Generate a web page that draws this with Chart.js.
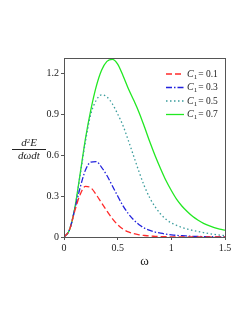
<!DOCTYPE html>
<html>
<head>
<meta charset="utf-8">
<script src="https://cdn.jsdelivr.net/npm/chart.js@4.4.0/dist/chart.umd.min.js"></script>
<style>
  html, body { margin: 0; padding: 0; background: #fff; }
  #wrap { position: relative; width: 249px; height: 323px; }
  #ylab {
    position: absolute; left: 12px; top: 137px; width: 34px;
    font-family: "Liberation Serif", serif; font-style: italic; font-size: 11px;
    text-align: center; color: #222; line-height: 11px;
  }
  #ylab .num { border-bottom: 1px solid #222; padding-bottom: 1px; }
  #ylab sup { font-size: 7px; vertical-align: 3px; line-height: 0; }
</style>
</head>
<body>
<div id="wrap">
  <canvas id="c" width="249" height="323"></canvas>
  <div id="ylab"><div class="num">d<sup>2</sup>E</div><div>dωdt</div></div>
</div>
<script>
// data
const omega = [0, 0.05, 0.1, 0.15, 0.2, 0.25, 0.3, 0.35, 0.4, 0.45, 0.5, 0.55, 0.6, 0.65, 0.7, 0.75,
  0.8, 0.85, 0.9, 0.95, 1.0, 1.05, 1.1, 1.15, 1.2, 1.25, 1.3, 1.35, 1.4, 1.45, 1.5];
const c1Values = [0.1, 0.3, 0.5, 0.7];
const red01 = [0, 0.05, 0.19, 0.31, 0.37, 0.36, 0.31, 0.25, 0.19, 0.135, 0.09, 0.058, 0.037, 0.024,
  0.016, 0.011, 0.007, 0.005, 0.003, 0.002, 0.0015, 0.001, 0.001, 0, 0, 0, 0, 0, 0, 0, 0];
const blue03 = [0, 0.05, 0.2, 0.36, 0.49, 0.548, 0.552, 0.51, 0.45, 0.375, 0.3, 0.228, 0.17, 0.125, 0.09,
  0.065, 0.048, 0.036, 0.028, 0.021, 0.016, 0.012, 0.009, 0.007, 0.005, 0.004, 0.003, 0.002, 0.0015, 0.001, 0.001];
const teal05 = [0, 0.05, 0.205, 0.45, 0.7, 0.9, 1.0, 1.04, 1.025, 0.975, 0.9, 0.815, 0.705, 0.59, 0.475, 0.37,
  0.285, 0.22, 0.168, 0.13, 0.103, 0.085, 0.07, 0.058, 0.048, 0.04, 0.032, 0.025, 0.019, 0.014, 0.01];
const green07 = [0, 0.05, 0.21, 0.46, 0.72, 0.93, 1.1, 1.22, 1.285, 1.30, 1.265, 1.18, 1.085, 1.0, 0.91, 0.805,
  0.695, 0.593, 0.5, 0.413, 0.34, 0.275, 0.225, 0.185, 0.15, 0.123, 0.1, 0.083, 0.069, 0.058, 0.05];
const xTicks = [0, 0.5, 1, 1.5];
const yTicks = [0, 0.3, 0.6, 0.9, 1.2];

const serif = '"Liberation Serif", "DejaVu Serif", serif';

function pts(arr) {
  return omega.map((w, i) => ({ x: w, y: arr[i] }));
}

const series = [
  { vals: red01, color: '#ff2a2a', dash: [6, 3] },
  { vals: blue03, color: '#2222dd', dash: [6, 2, 1.5, 2] },
  { vals: teal05, color: '#3a9c9c', dash: [1.5, 2.5] },
  { vals: green07, color: '#22e822', dash: [] }
];

const datasets = series.map((s, i) => ({
  label: 'C1 = ' + c1Values[i],
  data: pts(s.vals),
  borderColor: s.color,
  borderDash: s.dash,
  borderWidth: 1.3,
  pointRadius: 0,
  fill: false,
  cubicInterpolationMode: 'monotone'
}));

// frame around plot area + legend drawn inside
const framePlugin = {
  id: 'frame',
  afterDraw(chart) {
    const ctx = chart.ctx;
    const a = chart.chartArea;
    ctx.save();
    ctx.strokeStyle = '#555';
    ctx.lineWidth = 1;
    ctx.strokeRect(a.left + 0.5, a.top + 0.5, a.right - a.left, a.bottom - a.top);

    // legend
    const x0 = 166, x1 = 184, rowY = [74, 87.5, 101, 114.5];
    chart.data.datasets.forEach((ds, i) => {
      const y = rowY[i];
      ctx.strokeStyle = ds.borderColor;
      ctx.lineWidth = 1.3;
      ctx.setLineDash(ds.borderDash);
      ctx.beginPath();
      ctx.moveTo(x0, y);
      ctx.lineTo(x1, y);
      ctx.stroke();
      ctx.setLineDash([]);
      ctx.fillStyle = '#222';
      ctx.textBaseline = 'middle';
      ctx.textAlign = 'left';
      ctx.font = 'italic 10px ' + serif;
      let tx = 187;
      ctx.fillText('C', tx, y);
      tx += ctx.measureText('C').width;
      ctx.font = '7px ' + serif;
      ctx.fillText('1', tx, y + 3);
      tx += ctx.measureText('1').width + 1;
      ctx.font = '9.5px ' + serif;
      ctx.fillText('= ' + c1Values[i], tx, y);
    });
    ctx.restore();
  }
};

new Chart(document.getElementById('c'), {
  type: 'line',
  data: { datasets: datasets },
  options: {
    responsive: false,
    animation: false,
    layout: { padding: { top: 58, right: 24, bottom: 50, left: 0 } },
    plugins: { legend: { display: false }, tooltip: { enabled: false } },
    scales: {
      x: {
        type: 'linear', min: 0, max: 1.5,
        afterFit: s => { s.height = 36; },
        afterBuildTicks: s => { s.ticks = xTicks.map(v => ({ value: v })); },
        grid: { display: true, drawOnChartArea: false, tickLength: 3, color: '#555' },
        border: { display: true, color: '#555' },
        ticks: { color: '#222', padding: 2, maxRotation: 0, font: { family: serif, size: 10 },
          callback: v => String(v) },
        title: { display: true, text: 'ω', color: '#222', font: { family: serif, size: 13 },
          padding: { top: 2, bottom: 4 } }
      },
      y: {
        type: 'linear', min: 0, max: 1.31,
        afterFit: s => { s.width = 64; },
        afterBuildTicks: s => { s.ticks = yTicks.map(v => ({ value: v })); },
        grid: { display: true, drawOnChartArea: false, tickLength: 3, color: '#555' },
        border: { display: true, color: '#555' },
        ticks: { color: '#222', padding: 2, font: { family: serif, size: 10 },
          callback: v => String(v) }
      }
    }
  },
  plugins: [framePlugin]
});
</script>
</body>
</html>
